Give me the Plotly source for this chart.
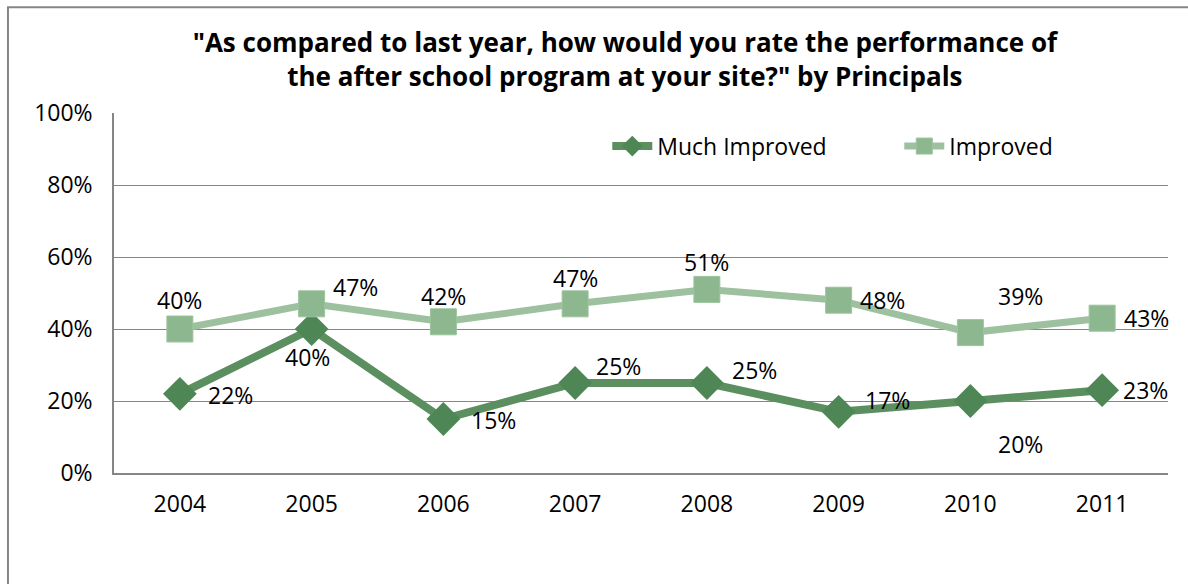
import plotly.graph_objects as go

years = ["2004", "2005", "2006", "2007", "2008", "2009", "2010", "2011"]
much_improved = [22, 40, 15, 25, 25, 17, 20, 23]
improved = [40, 47, 42, 47, 51, 48, 39, 43]
y_ticks = [0, 20, 40, 60, 80, 100]

# label offsets (px) for each point's value label
improved_offsets = [(0, 29), (44, 17), (0, 26), (0, 26), (0, 27), (44, 0), (50, 37), (44, 0)]
much_offsets = [(51, -1), (-4, -28), (50, -1), (43, 17), (48, 13), (49, 12), (50, -43), (43, 0)]

FONT = "Open Sans"
TXT = 23
DARK = "#5b8f5f"
DARK_MARK = "#4e8755"
LIGHT = "#9dc19f"
LIGHT_MARK = "#8db78f"

xpos = list(range(len(years)))

fig = go.Figure()
fig.add_trace(go.Scatter(
    x=xpos, y=much_improved, name="Much Improved", mode="lines+markers",
    line=dict(color=DARK, width=8),
    marker=dict(symbol="diamond", size=26, color=DARK_MARK,
                line=dict(color=DARK_MARK, width=0)),
))
fig.add_trace(go.Scatter(
    x=xpos, y=improved, name="Improved", mode="lines+markers",
    line=dict(color=LIGHT, width=7),
    marker=dict(symbol="square", size=26, color=LIGHT_MARK,
                line=dict(color="#9cc49e", width=1)),
))

annotations = []
for vals, offs in ((improved, improved_offsets), (much_improved, much_offsets)):
    for xi, v, (dx, dy) in zip(xpos, vals, offs):
        annotations.append(dict(
            x=xi, y=v, xref="x", yref="y", text=f"{v}%", showarrow=False,
            xshift=dx, yshift=dy, font=dict(family=FONT, size=TXT, color="#000000"),
        ))

fig.update_layout(
    width=1188, height=584,
    margin=dict(l=114, r=20, t=113, b=111, autoexpand=False),
    paper_bgcolor="white", plot_bgcolor="white",
    title=dict(
        text='"As compared to last year, how would you rate the performance of<br>the after school program at your site?" by Principals',
        x=0.526, xanchor="center", y=0.911, yanchor="top",
        font=dict(family=FONT, size=26, color="#000000", weight="bold"),
    ),
    font=dict(family=FONT, size=TXT, color="#000000"),
    showlegend=True,
    legend=dict(
        orientation="h", x=0.468, y=0.908, xanchor="left", yanchor="middle",
        bgcolor="rgba(0,0,0,0)", font=dict(family=FONT, size=TXT),
        itemwidth=40, entrywidth=237, traceorder="normal",
    ),
    xaxis=dict(
        range=[-0.5, len(years) - 0.5], tickvals=xpos, ticktext=years,
        showline=True, linecolor="#868686", linewidth=1.5,
        showgrid=False, zeroline=False, ticks="", ticklabelstandoff=10,
        tickfont=dict(family=FONT, size=TXT),
    ),
    yaxis=dict(
        range=[0, 100], tickvals=y_ticks, ticktext=[f"{t}%" for t in y_ticks],
        showline=True, linecolor="#868686", linewidth=1.5,
        showgrid=True, gridcolor="#868686", gridwidth=1.2, zeroline=False,
        ticks="", ticklabelstandoff=15, tickfont=dict(family=FONT, size=TXT),
    ),
    annotations=annotations,
    shapes=[dict(
        type="rect", xref="paper", yref="paper",
        x0=-0.1006, y0=-0.6, x1=1.2, y1=1.294,
        line=dict(color="#868686", width=2), fillcolor="rgba(0,0,0,0)", layer="below",
    )],
)

fig.write_html("out.html")
